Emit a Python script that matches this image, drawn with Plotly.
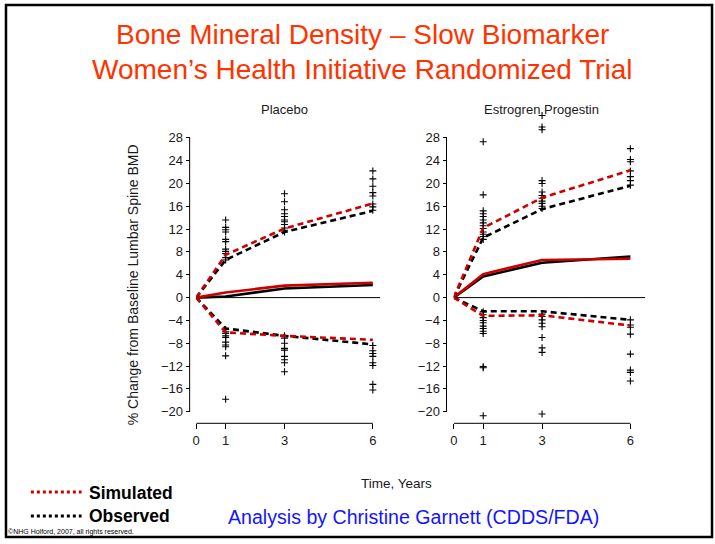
import plotly.graph_objects as go

# ---------------- data ----------------
times = [0, 1, 3, 6]
x_tick_vals = [0, 1, 3, 6]
y_tick_vals = [-20, -16, -12, -8, -4, 0, 4, 8, 12, 16, 20, 24, 28]

panel_titles = ["Placebo", "Estrogren Progestin"]

# Placebo
placebo_obs_upper = [0, 6.6, 11.5, 15.2]
placebo_sim_upper = [0, 7.5, 12.1, 16.5]
placebo_obs_median = [0, 0.2, 1.6, 2.2]
placebo_sim_median = [0, 0.9, 2.1, 2.6]
placebo_obs_lower = [0, -5.4, -6.7, -8.2]
placebo_sim_lower = [0, -6.1, -6.7, -7.4]
placebo_pts_1 = [13.6, 12.3, 11.9, 11.5, 10.2, 9.8, 8.5, 8.1, 7.7, 7.0, 6.6,
                 -5.6, -6.0, -6.3, -6.7, -7.0, -7.8, -8.3, -8.6, -10.2, -17.8]
placebo_pts_3 = [18.2, 16.8, 15.4, 14.7, 14.2, 13.6, 13.3, 12.8, 12.2, 11.8, 11.5,
                 -6.7, -7.1, -8.0, -8.9, -9.2, -10.3, -10.9, -11.4, -13.0]
placebo_pts_6 = [22.2, 20.8, 19.5, 18.4, 17.8, 16.4, 15.9, 15.3,
                 -8.4, -9.3, -9.8, -10.3, -11.4, -11.9, -15.2, -16.2]

# Estrogen + Progestin
ep_obs_upper = [0, 10.5, 15.5, 19.6]
ep_sim_upper = [0, 12.2, 17.5, 22.3]
ep_obs_median = [0, 3.7, 6.1, 7.2]
ep_sim_median = [0, 4.1, 6.6, 6.8]
ep_obs_lower = [0, -2.4, -2.4, -3.9]
ep_sim_lower = [0, -3.2, -3.1, -4.9]
ep_pts_1 = [27.3, 18.0, 15.2, 14.7, 14.2, 13.6, 13.1, 12.6, 12.1, 11.5, 11.1, 10.7, 10.2,
            -2.5, -3.0, -3.5, -4.0, -4.4, -5.0, -5.4, -5.9, -6.3, -12.1, -12.3, -20.7]
ep_pts_3 = [31.9, 29.9, 29.4, 20.5, 20.0, 18.5, 17.9, 17.4, 16.9, 16.5, 16.0, 15.6,
            -2.9, -3.3, -3.9, -4.5, -5.1, -7.0, -8.8, -9.6, -20.4]
ep_pts_6 = [26.1, 24.2, 23.8, 22.2, 21.2, 20.5, 19.7,
            -3.9, -4.8, -5.2, -6.4, -9.9, -12.7, -13.1, -14.6]

# ---------------- style ----------------
W, H = 715, 544
RED = "#CC0000"
BLACK = "#000000"
TXT = "#1a1a1a"
FONT = "Arial, Liberation Sans, sans-serif"


def px(x):
    return x / W


def py(y):
    return 1 - y / H


fig = go.Figure()

panels = [
    dict(xa="x", ya="y",
         lines=[placebo_obs_upper, placebo_sim_upper, placebo_obs_median,
                placebo_sim_median, placebo_obs_lower, placebo_sim_lower],
         pts=[placebo_pts_1, placebo_pts_3, placebo_pts_6]),
    dict(xa="x2", ya="y2",
         lines=[ep_obs_upper, ep_sim_upper, ep_obs_median,
                ep_sim_median, ep_obs_lower, ep_sim_lower],
         pts=[ep_pts_1, ep_pts_3, ep_pts_6]),
]

for p in panels:
    xs, ys = [], []
    for t, vals in zip(times[1:], p["pts"]):
        xs += [t] * len(vals)
        ys += vals
    fig.add_trace(go.Scatter(
        x=xs, y=ys, mode="markers", xaxis=p["xa"], yaxis=p["ya"],
        marker=dict(symbol="cross-thin", size=5, line=dict(width=1.1, color=BLACK)),
        cliponaxis=False, showlegend=False, hoverinfo="skip"))
    obs_u, sim_u, obs_m, sim_m, obs_l, sim_l = p["lines"]
    for vals, col, dash in [(obs_m, BLACK, "solid"), (sim_m, RED, "solid"),
                            (obs_u, BLACK, "6px,4px"), (sim_u, RED, "6px,4px"),
                            (obs_l, BLACK, "6px,4px"), (sim_l, RED, "6px,4px")]:
        fig.add_trace(go.Scatter(
            x=times, y=vals, mode="lines", xaxis=p["xa"], yaxis=p["ya"],
            line=dict(color=col, width=2.6, dash=dash),
            showlegend=False, hoverinfo="skip"))

# axes geometry (pixel based)
x_range = [0, 6.6]
y_range = [-22, 33]
left_x0, right_x0, unit = 193.3, 452.3, 29.6
y_zero_px, y_unit = 297.6, 5.708
ydom = [py(y_zero_px - y_range[0] * y_unit), py(y_zero_px - y_range[1] * y_unit)]
xpos = py(423.3)

axis_common_x = dict(range=x_range, tickvals=x_tick_vals, ticks="outside", ticklen=5,
                     tickwidth=1, tickcolor=BLACK, showline=False, showgrid=False,
                     zeroline=False, anchor="free", position=xpos,
                     tickfont=dict(family=FONT, size=13, color=TXT))
axis_common_y = dict(range=y_range, tickvals=y_tick_vals, ticks="outside", ticklen=4,
                     tickwidth=1, tickcolor=BLACK, showline=False, showgrid=False,
                     zeroline=False, anchor="free", domain=ydom,
                     tickfont=dict(family=FONT, size=13, color=TXT))

y_axis_px = [186.7, 445.0]
fig.update_layout(
    xaxis=dict(domain=[px(left_x0), px(left_x0 + unit * x_range[1])], **axis_common_x),
    xaxis2=dict(domain=[px(right_x0), px(right_x0 + unit * x_range[1])], **axis_common_x),
    yaxis=dict(position=px(y_axis_px[0]), **axis_common_y),
    yaxis2=dict(position=px(y_axis_px[1]), **axis_common_y),
)

shapes = []
for xa, ya, zx, yx in [("x", "y", 6.25, y_axis_px[0]), ("x2", "y2", 6.5, y_axis_px[1])]:
    # x-axis line (0 to 6)
    shapes.append(dict(type="line", xref=xa, yref="paper", x0=0, x1=6, y0=xpos, y1=xpos,
                       line=dict(color=BLACK, width=1)))
    # y-axis line (-20 to 28)
    shapes.append(dict(type="line", xref="paper", yref=ya, x0=px(yx), x1=px(yx),
                       y0=y_tick_vals[0], y1=y_tick_vals[-1], line=dict(color=BLACK, width=1)))
    # zero reference line
    shapes.append(dict(type="line", xref=xa, yref=ya, x0=0, x1=zx, y0=0, y1=0,
                       line=dict(color=BLACK, width=1), layer="below"))

# legend sample lines
shapes.append(dict(type="line", xref="paper", yref="paper", x0=px(27), x1=px(78),
                   y0=py(492), y1=py(492), line=dict(color=RED, width=3, dash="dot")))
shapes.append(dict(type="line", xref="paper", yref="paper", x0=px(27), x1=px(78),
                   y0=py(516), y1=py(516), line=dict(color=BLACK, width=3, dash="dot")))
# slide border
shapes.append(dict(type="rect", xref="paper", yref="paper", x0=px(2), x1=px(712),
                   y0=py(537), y1=py(5), line=dict(color=BLACK, width=2.5)))

annotations = [
    dict(text="Bone Mineral Density – Slow Biomarker", x=px(361), y=py(34),
         font=dict(family=FONT, size=28, color="#FF3300")),
    dict(text="Women’s Health Initiative Randomized Trial", x=px(361), y=py(69),
         font=dict(family=FONT, size=28, color="#FF3300")),
    dict(text=panel_titles[0], x=px(282), y=py(109), font=dict(family=FONT, size=13, color=TXT)),
    dict(text=panel_titles[1], x=px(541), y=py(109), font=dict(family=FONT, size=13, color=TXT)),
    dict(text="% Change from Baseline Lumbar Spine BMD", x=px(130), y=py(285), textangle=-90,
         font=dict(family=FONT, size=14, color=TXT)),
    dict(text="Time, Years", x=px(395), y=py(483), font=dict(family=FONT, size=13.5, color=TXT)),
    dict(text="<b>Simulated</b>", x=px(83), y=py(493), xanchor="left",
         font=dict(family=FONT, size=17.5, color=BLACK)),
    dict(text="<b>Observed</b>", x=px(83), y=py(516), xanchor="left",
         font=dict(family=FONT, size=17.5, color=BLACK)),
    dict(text="Analysis by Christine Garnett (CDDS/FDA)", x=px(412), y=py(517),
         font=dict(family=FONT, size=19.6, color="#1414FF")),
    dict(text="©NHG Holford, 2007, all rights reserved.", x=px(2), y=py(532), xanchor="left",
         font=dict(family=FONT, size=7, color=BLACK)),
]
for a in annotations:
    a.setdefault("xanchor", "center")
    a.update(xref="paper", yref="paper", yanchor="middle", showarrow=False)

fig.update_layout(
    width=W, height=H, margin=dict(l=0, r=0, t=0, b=0),
    paper_bgcolor="white", plot_bgcolor="white",
    shapes=shapes, annotations=annotations, showlegend=False,
)

fig.write_html(
    "out.html",
    post_script="document.documentElement.style.margin='0';"
                "document.body.style.margin='0';document.body.style.overflow='hidden';",
)
